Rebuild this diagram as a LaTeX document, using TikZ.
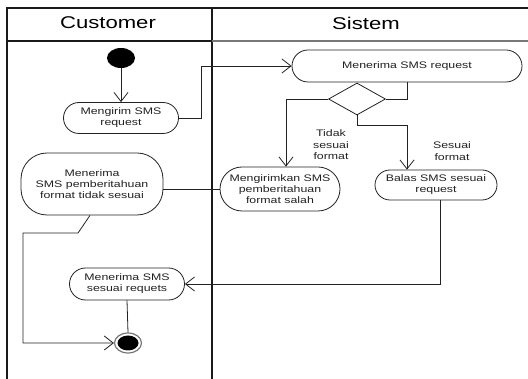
\documentclass[tikz,border=0pt]{standalone}
\usepackage{fontspec}
\usetikzlibrary{arrows.meta,shapes.geometric,shapes.misc}
\newfontfamily\lanefont[FakeStretch=1.3]{Liberation Sans}
\definecolor{ink}{HTML}{222222}
\definecolor{lane}{HTML}{1A1A1A}
\definecolor{lanegray}{HTML}{777777}
\begin{document}
\begin{tikzpicture}[x=1pt,y=-1pt,
  every node/.style={font=\lanefont\fontsize{9.5}{11}\selectfont, text=ink},
  action/.style={rounded rectangle, draw=ink, line width=0.8pt, fill=white,
    align=center, inner sep=0pt},
  tallaction/.style={rectangle, rounded corners=26pt, draw=ink, line width=0.8pt,
    fill=white, align=center, inner sep=0pt},
  flow/.style={draw=ink, line width=0.8pt},
  arr/.style={flow, -{Straight Barb[length=9pt,width=14pt,line width=0.8pt]}},
  header/.style={font=\lanefont\fontsize{17}{20}\selectfont, text=black},
  guard/.style={align=center, font=\lanefont\fontsize{9.5}{11.5}\selectfont}]
\useasboundingbox (0,0) rectangle (528,379);

% swimlane frame
\draw[lane, line width=1.4pt] (7,379) -- (7,8) -- (528,8);
\draw[lane, line width=1.4pt] (212,8) -- (212,379);
\draw[lane, line width=1.4pt] (7,41) -- (212,41);
\draw[lanegray, line width=2pt] (212,41) -- (528,41);
\node[header] (hcust) at (108,23) {Customer};
\node[header] (hsys) at (366,23) {Sistem};

% nodes
\node[ellipse, fill=black, minimum width=28pt, minimum height=20pt, inner sep=0pt] (start) at (121,58) {};
\node[action, minimum width=115pt, minimum height=31pt] (send) at (121,118) {Mengirim SMS\\request};
\node[action, minimum width=230pt, minimum height=32pt] (recv) at (407,66) {Menerima SMS request};
\node[diamond, draw=ink, line width=0.8pt, minimum width=57pt, minimum height=32pt, inner sep=0pt] (dec) at (357,99) {};
\node[action, minimum width=120pt, minimum height=44pt] (notify) at (280,189) {Mengirimkan SMS\\pemberitahuan\\format salah};
\node[action, minimum width=122pt, minimum height=30pt] (reply) at (436,185) {Balas SMS sesuai\\request};
\node[tallaction, minimum width=142pt, minimum height=62pt] (recvnotify) at (92,184) {Menerima\\SMS pemberitahuan\\format tidak sesuai};
\node[action, minimum width=115pt, minimum height=32pt] (recvok) at (127,284) {Menerima SMS\\sesuai requets};
\node[ellipse, draw=lanegray, line width=1.2pt, fill=white, minimum width=27pt, minimum height=20pt, inner sep=0pt] (end) at (128,343) {};
\fill[black] (end.center) ellipse (10.5 and 7.5);

% guard labels
\node[guard] (gno) at (331,145) {Tidak\\sesuai\\format};
\node[guard] (gyes) at (452,151) {Sesuai\\format};

% flows
\draw[arr] (start) -- (send);
\draw[arr] (send.east) -- ++(22,0) |- (recv.west);
\draw[flow] (recv.south) |- (dec.east);
\draw[arr] (dec.west) -| ([xshift=6pt]notify.north);
\draw[arr] (dec.south) -- ++(0,10) -| ([xshift=-29pt]reply.north);
\draw[flow] (notify.west) -- (notify.west -| recvnotify.east);
\draw[arr] ([xshift=-2pt]recvnotify.south) -- (78,233) -- (23,233) |- (end.west);
\draw[arr] ([xshift=4pt]reply.south) |- (recvok.east);
\draw[flow] (recvok.south) -- (end.north);
\end{tikzpicture}
\end{document}
